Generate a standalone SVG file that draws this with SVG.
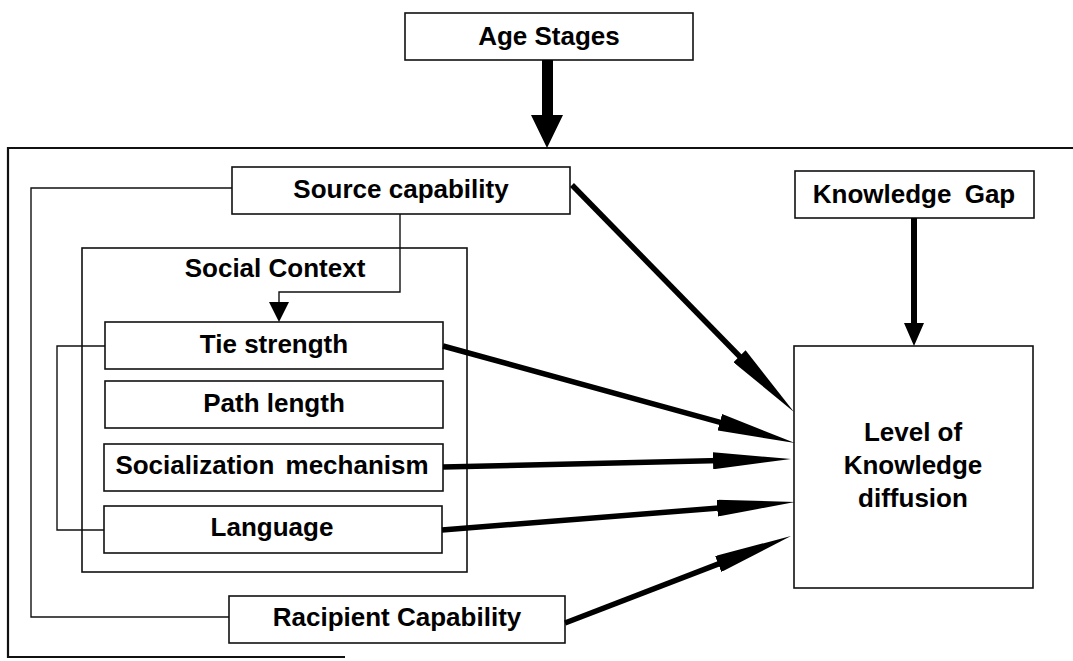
<svg xmlns="http://www.w3.org/2000/svg" width="1073" height="661" viewBox="0 0 1073 661">
<style>
.box{fill:#fff;stroke:#111;stroke-width:1.6}
.frame{fill:none;stroke:#111;stroke-width:2.2}
.thin{fill:none;stroke:#111;stroke-width:1.4}
.thick{fill:none;stroke:#000;stroke-width:5.5}
.lbl{font-family:"Liberation Sans",Arial,sans-serif;font-weight:bold;font-size:26px;fill:#000;text-anchor:middle}
.head{fill:#000}
</style>
<defs>
<marker id="big" viewBox="0 0 78 17" refX="8" refY="8.5" markerWidth="78" markerHeight="17" markerUnits="userSpaceOnUse" orient="auto">
<path d="M0,0 L78,8.5 L0,17 z" fill="#000"/>
</marker>
<marker id="small" viewBox="0 0 20 20" refX="1" refY="10" markerWidth="20" markerHeight="20" markerUnits="userSpaceOnUse" orient="auto">
<path d="M0,0 L20,10 L0,20 z" fill="#000"/>
</marker>
</defs>
<rect width="1073" height="661" fill="#fff"/>
<path class="frame" d="M1073,148 H8 V657 H345"/>
<g id="age-stages">
<rect class="box" x="405" y="13" width="288" height="47"/>
<text class="lbl" x="549" y="45">Age Stages</text>
</g>
<g id="source-capability">
<rect class="box" x="232" y="167" width="338" height="47"/>
<text class="lbl" x="401" y="198">Source capability</text>
</g>
<g id="knowledge-gap">
<rect class="box" x="795" y="171" width="239" height="47"/>
<text class="lbl" x="914" y="203" word-spacing="6">Knowledge Gap</text>
</g>
<g id="social-context">
<rect class="box" x="82" y="248" width="385" height="324"/>
<text class="lbl" x="275" y="277">Social Context</text>
</g>
<g id="tie-strength">
<rect class="box" x="105" y="322" width="338" height="47"/>
<text class="lbl" x="274" y="353">Tie strength</text>
</g>
<g id="path-length">
<rect class="box" x="105" y="381" width="338" height="47"/>
<text class="lbl" x="274" y="412">Path length</text>
</g>
<g id="socialization-mechanism">
<rect class="box" x="104" y="444" width="339" height="47"/>
<text class="lbl" x="272" y="474" word-spacing="4">Socialization mechanism</text>
</g>
<g id="language">
<rect class="box" x="104" y="506" width="338" height="47"/>
<text class="lbl" x="272" y="536">Language</text>
</g>
<g id="racipient-capability">
<rect class="box" x="229" y="596" width="336" height="47"/>
<text class="lbl" x="397" y="626">Racipient Capability</text>
</g>
<g id="level-of-knowledge-diffusion">
<rect class="box" x="794" y="346" width="239" height="242"/>
<text class="lbl" x="913" y="441">Level of</text>
<text class="lbl" x="913" y="474">Knowledge</text>
<text class="lbl" x="913" y="507">diffusion</text>
</g>
<g id="connectors">
<polygon class="head" points="542,60 553,60 553,115 563,115 547,148 531,115 542,115"/>
<polygon class="head" points="911,218 917,218 917,323 924,323 914,346 904,323 911,323"/>
<path class="thin" d="M400,214 V292 H279 V303" marker-end="url(#small)"/>
<path class="thin" d="M105,346 H57 V530 H104"/>
<path class="thin" d="M232,188 H31 V617 H229"/>
<line class="thick" x1="572" y1="185" x2="745.1" y2="362" marker-end="url(#big)"/>
<line class="thick" x1="443" y1="346" x2="727.5" y2="424.4" marker-end="url(#big)"/>
<line class="thick" x1="443" y1="467" x2="721" y2="460.6" marker-end="url(#big)"/>
<line class="thick" x1="442" y1="530" x2="725.2" y2="507.5" marker-end="url(#big)"/>
<line class="thick" x1="565" y1="623" x2="725.7" y2="561.1" marker-end="url(#big)"/>
</g>
</svg>
